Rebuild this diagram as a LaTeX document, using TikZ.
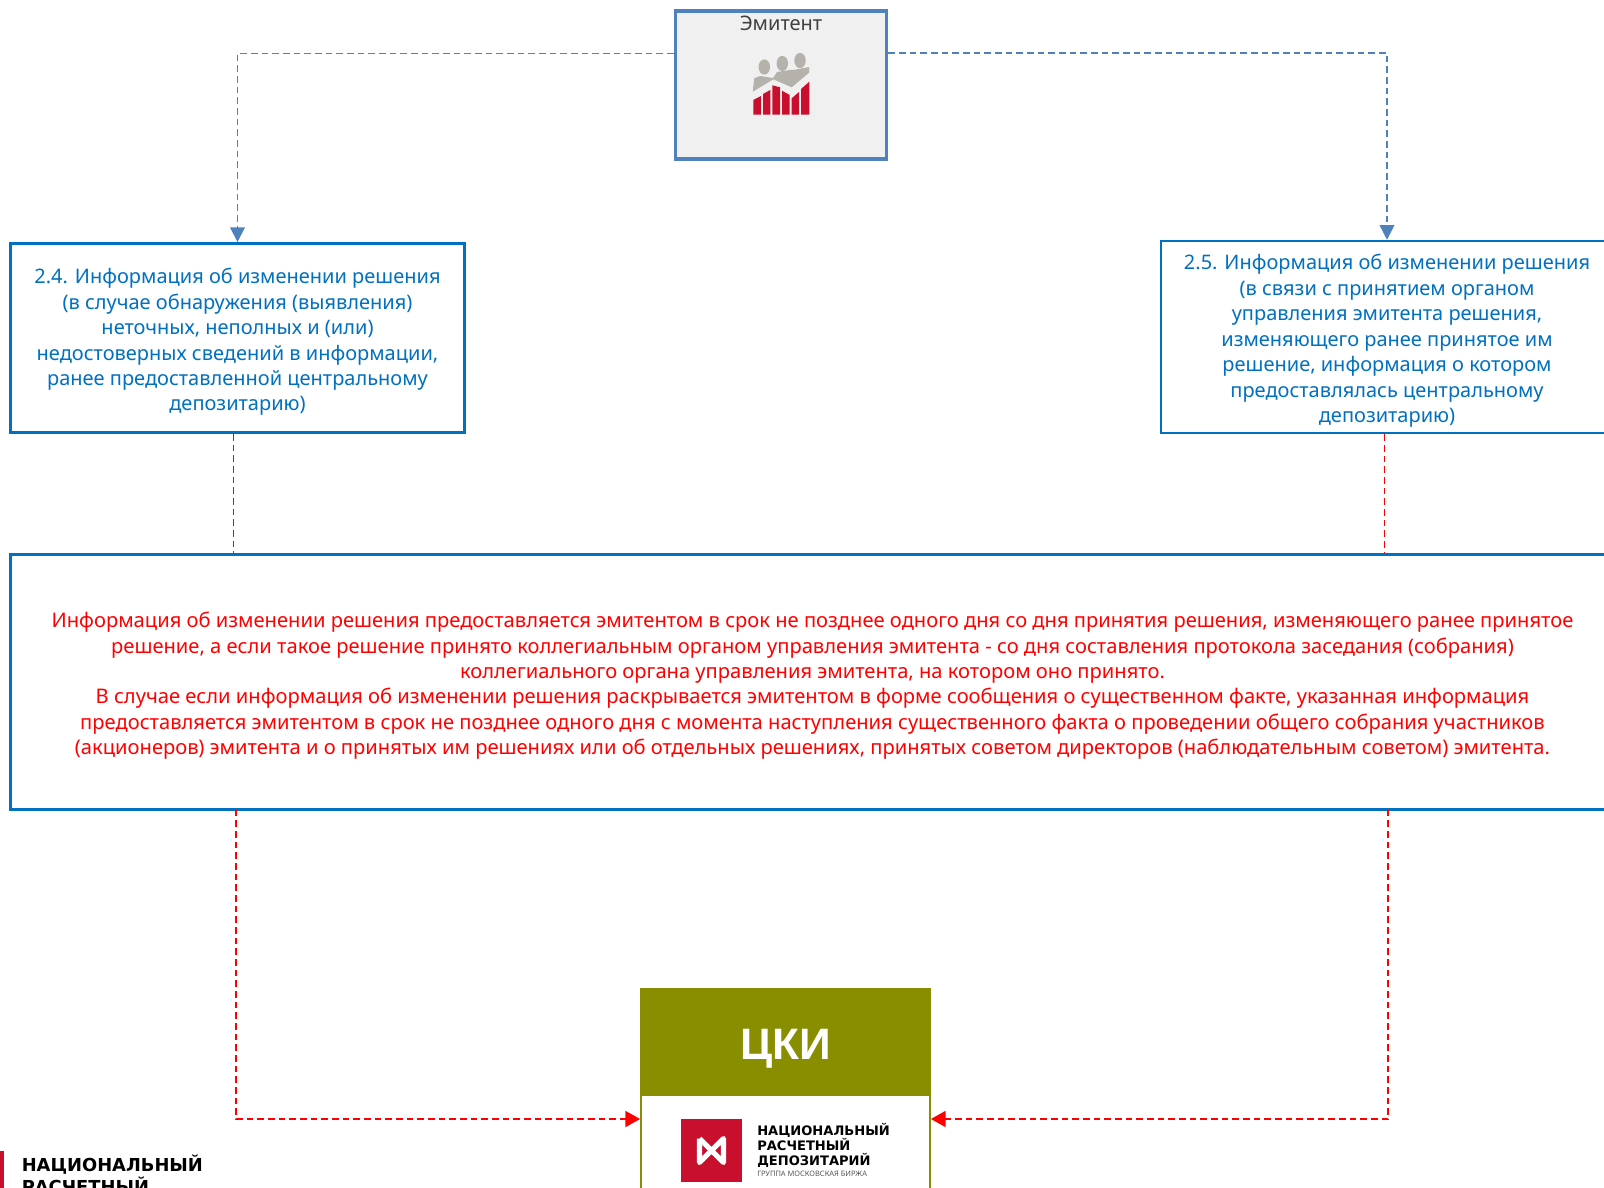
\documentclass[tikz,border=0pt]{standalone}
\usepackage{fontspec}
\setmainfont{Noto Sans}
\newfontfamily\logofont{DejaVu Sans}
\newfontfamily\headfont{Liberation Sans}
\usetikzlibrary{positioning, arrows.meta}

\definecolor{boxblue}{HTML}{0070C0}
\definecolor{emitblue}{HTML}{4F81BD}
\definecolor{ckiolive}{HTML}{888E00}
\definecolor{logored}{HTML}{C8102E}
\definecolor{peoplegray}{HTML}{B5B2AB}

\newcommand{\topgap}{\rule{0pt}{17.5pt}}

\tikzset{
    infobox/.style={draw=boxblue, line width=1.9pt, fill=white, align=center, inner sep=0pt, text=boxblue, font=\fontsize{15}{19.1}\selectfont},
    bluelink/.style={draw=emitblue, line width=1.1pt, dash pattern=on 5pt off 3pt, -{Triangle[length=11pt,width=11pt]}},
    redlink/.style={draw=red, line width=1.1pt, dash pattern=on 5pt off 3pt},
    redarrow/.style={redlink, -{Triangle[length=11pt,width=12pt]}},
    logotext/.style={inner sep=0pt, anchor=west, font=\logofont\bfseries}
}

\begin{document}
\begin{tikzpicture}[x=0.75pt, y=-0.75pt]
    \useasboundingbox (0,0) rectangle (1604,1188);
    \clip (0,0) rectangle (1604,1188);

    %Issuer
    \node[draw=emitblue, line width=2.5pt, fill=black!6, minimum width=158.5pt, minimum height=111pt, inner sep=0pt] (emit) at (781,85) {};
    \node[inner sep=0pt, text=black!75, font=\fontsize{15}{19.1}\selectfont] (emitname) at (781,23.5) {Эмитент};

    %Issuer icon
    \fill[peoplegray] (752.7,91.7) -- (754.3,78.3) -- (760,76) -- (773,78) -- (777,72) -- (790,70) -- (795,69.7) -- (809,67) -- (809,72.7) -- (791.7,87.3) -- (773.3,79.3) -- cycle;
    \foreach \x/\y in {764.3/67, 782.3/63.5, 800/60.5}
    \fill[peoplegray] (\x,\y) ellipse (4.3pt and 5.7pt);
    \foreach \xa/\xb/\ya/\yb in {753.3/761/100/96, 763/770.3/94/90, 772.3/780/85.3/87.3, 782/789.7/90.7/95, 791.7/799/98.3/92, 801/809.3/89/81.7}
    \fill[logored] (\xa,114.7) -- (\xa,\ya) -- (\xb,\yb) -- (\xb,114.7) -- cycle;

    %Information boxes
    \node[infobox, minimum width=340.5pt, minimum height=142pt] (box24) at (237.5,338) {\topgap 2.4. Информация об изменении решения\\(в случае обнаружения (выявления)\\неточных, неполных и (или)\\недостоверных сведений в информации,\\ранее предоставленной центральному\\депозитарию)};
    \node[infobox, minimum width=339pt, minimum height=144pt] (box25) at (1387,337) {\topgap 2.5. Информация об изменении решения\\(в связи с принятием органом\\управления эмитента решения,\\изменяющего ранее принятое им\\решение, информация о котором\\предоставлялась центральному\\депозитарию)};

    %Deadline box
    \node[infobox, text=red, minimum width=1203pt, minimum height=191pt, font=\fontsize{15.1}{19.1}\selectfont] (terms) at (812.5,682) {\topgap Информация об изменении решения предоставляется эмитентом в срок не позднее одного дня со дня принятия решения, изменяющего ранее принятое\\решение, а если такое решение принято коллегиальным органом управления эмитента - со дня составления протокола заседания (собрания)\\коллегиального органа управления эмитента, на котором оно принято.\\В случае если информация об изменении решения раскрывается эмитентом в форме сообщения о существенном факте, указанная информация\\предоставляется эмитентом в срок не позднее одного дня с момента наступления существенного факта о проведении общего собрания участников\\(акционеров) эмитента и о принятых им решениях или об отдельных решениях, принятых советом директоров (наблюдательным советом) эмитента.};

    %CKI
    \node[draw=ckiolive, line width=1.6pt, fill=white, minimum width=216.5pt, minimum height=195pt, inner sep=0pt] (cki) at (785.5,1119) {};
    \node[fill=ckiolive, minimum width=217.5pt, minimum height=81pt, inner sep=0pt, text=white, text height=31pt, text depth=5pt, font=\headfont\fontsize{33}{36}\selectfont\bfseries] (ckihead) at (785.5,1042) {ЦКИ};

    %CKI logo
    \node[fill=logored, minimum width=45.75pt, minimum height=47pt, inner sep=0pt] (logomark) at (711.5,1150.5) {};
    \draw[white, line width=3.8pt, line join=round] (699.5,1138.5) -- (699.5,1162.5) -- (723.5,1138.5) -- (723.5,1162.5) -- (699.5,1138.5);
    \node[logotext, font=\logofont\bfseries\fontsize{9.8}{11}\selectfont] (logo1) at (757,1130) {НАЦИОНАЛЬНЫЙ};
    \node[logotext, font=\logofont\bfseries\fontsize{9.8}{11}\selectfont] (logo2) at (757,1145) {РАСЧЕТНЫЙ};
    \node[logotext, font=\logofont\bfseries\fontsize{9.8}{11}\selectfont] (logo3) at (757,1160) {ДЕПОЗИТАРИЙ};
    \node[logotext, text=black!65, font=\fontsize{5.6}{6}\selectfont] (logo4) at (757,1174) {ГРУППА МОСКОВСКАЯ БИРЖА};

    %Page footer logo
    \fill[logored] (0,1151) rectangle (3.5,1188);
    \node[logotext, font=\logofont\bfseries\fontsize{13.4}{15}\selectfont] (foot1) at (21.5,1165) {НАЦИОНАЛЬНЫЙ};
    \node[logotext, font=\logofont\bfseries\fontsize{13.4}{15}\selectfont] (foot2) at (21.5,1185) {РАСЧЕТНЫЙ};

    %Blue links
    \draw[bluelink] ([yshift=23.5pt]emit.west) -| (box24.north);
    \draw[bluelink] ([yshift=24pt]emit.east) -| (box25.north);

    %Red links
    \coordinate (out24) at ([xshift=-3.2pt]box24.south);
    \coordinate (out25) at ([xshift=-2pt]box25.south);
    \draw[redlink] (out24) -- (out24 |- terms.north);
    \draw[redlink] (out25) -- (out25 |- terms.north);
    \coordinate (downl) at (236,809.5);
    \coordinate (downr) at (1388,809.5);
    \draw[redarrow] (downl) |- (cki.west);
    \draw[redarrow] (downr) |- (cki.east);
\end{tikzpicture}
\end{document}
